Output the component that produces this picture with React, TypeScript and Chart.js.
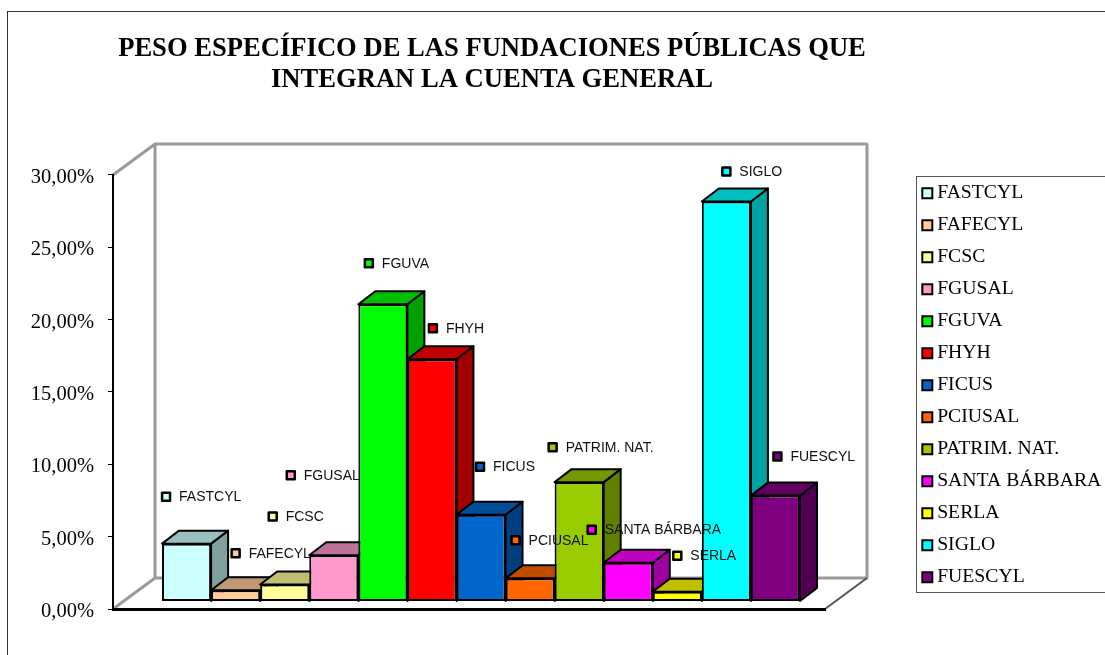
import React, { useEffect, useRef } from "react";
import { Chart, registerables } from "chart.js";

Chart.register(...registerables);

const titleLines = [
  "PESO ESPECÍFICO DE LAS FUNDACIONES PÚBLICAS QUE",
  "INTEGRAN LA CUENTA GENERAL",
];
const names = [
  "FASTCYL", "FAFECYL", "FCSC", "FGUSAL", "FGUVA", "FHYH", "FICUS",
  "PCIUSAL", "PATRIM. NAT.", "SANTA BÁRBARA", "SERLA", "SIGLO", "FUESCYL",
];
const values = [4.0, 0.78, 1.17, 3.2, 20.55, 16.75, 6.0, 1.6, 8.25, 2.68, 0.68, 27.65, 7.32];
const colors = [
  "#CCFFFF", "#FFCC99", "#FFFF99", "#FF99CC", "#00FF00", "#FF0000", "#0066CC",
  "#FF6600", "#99CC00", "#FF00FF", "#FFFF00", "#00FFFF", "#800080",
];
// Where Excel left each data label, relative to the top centre of its bar.
const labelDx = [-20.5, 0, -12, -43, -14, 1, -1, -14.5, -26.5, -36.5, 0, 0, 2];
const labelDy = [-47, -37, -68, -80, -41, -31, -48, -38, -35, -33, -36, -30, -39];

const SERIF = '"Liberation Serif"';
const SANS = '"Liberation Sans"';
const WALL = { dx: 42, dy: -31 };
const BAR_SHIFT = { dx: 12, dy: -7.5 };
const BAR_DEPTH = { dx: 17, dy: -13 };

function shade(hex: string, f: number) {
  const n = parseInt(hex.slice(1), 16);
  const c = [(n >> 16) & 255, (n >> 8) & 255, n & 255].map((v) => Math.round(v * f));
  return `rgb(${c[0]},${c[1]},${c[2]})`;
}

function poly(ctx: CanvasRenderingContext2D, pts: number[][], fill: string) {
  ctx.beginPath();
  pts.forEach((p, i) => (i ? ctx.lineTo(p[0], p[1]) : ctx.moveTo(p[0], p[1])));
  ctx.closePath();
  ctx.fillStyle = fill;
  ctx.fill();
  ctx.stroke();
}

const stagePlugin = {
  id: "stage",
  beforeLayout(chart: any) {
    const lg = chart.legend;
    if (lg && !lg.__patched) {
      const orig = lg.fit;
      lg.fit = function () {
        orig.call(this);
        this.width = 280;
      };
      lg.__patched = true;
    }
  },
  afterLayout(chart: any) {
    chart.titleBlock.left = 92;
    chart.titleBlock.right = 892;
    chart.legend.left = 915;
    chart.legend.top = 171;
    chart.legend.bottom = 612;
  },
  beforeDraw(chart: any) {
    const { ctx, chartArea: a } = chart;
    ctx.save();
    // outer frame, runs off the picture on the right and at the bottom
    ctx.strokeStyle = "#333333";
    ctx.lineWidth = 1;
    ctx.strokeRect(7.5, 11.5, 1300, 800);
    // legend frame
    ctx.strokeStyle = "#555555";
    ctx.strokeRect(916.5, 176.5, 400, 416);

    // walls and floor
    const x0 = a.left, x1 = a.right, y0 = a.top, y1 = a.bottom;
    const bx0 = x0 + WALL.dx, bx1 = x1 + WALL.dx, by0 = y0 + WALL.dy, by1 = y1 + WALL.dy;
    ctx.lineJoin = "round";
    ctx.strokeStyle = "#9a9a9a";
    ctx.lineWidth = 3;
    ctx.beginPath();
    ctx.moveTo(x0, y0);
    ctx.lineTo(bx0, by0);
    ctx.lineTo(bx1, by0);
    ctx.lineTo(bx1, by1);
    ctx.lineTo(bx0, by1);
    ctx.lineTo(x0, y1);
    ctx.moveTo(bx0, by0);
    ctx.lineTo(bx0, by1);
    ctx.stroke();
    ctx.strokeStyle = "#555555";
    ctx.lineWidth = 2;
    ctx.beginPath();
    ctx.moveTo(bx1, by1);
    ctx.lineTo(x1, y1);
    ctx.stroke();
    ctx.restore();
  },
  // the library's own draw loop runs last-to-first; bars must go left to right
  beforeDatasetDraw() {
    return false;
  },
  afterDatasetsDraw(chart: any) {
    const { ctx } = chart;
    ctx.save();
    ctx.translate(BAR_SHIFT.dx, BAR_SHIFT.dy);
    const n = chart.data.datasets.length;
    for (let i = 0; i < n; i++) {
      const el = chart.getDatasetMeta(i).data[0];
      const { x, y, base, width } = el.getProps(["x", "y", "base", "width"], true);
      const l = x - width / 2, r = x + width / 2;
      const d = BAR_DEPTH;
      ctx.lineWidth = 2;
      ctx.lineJoin = "round";
      ctx.strokeStyle = "#000000";
      poly(ctx, [[r, y], [r + d.dx, y + d.dy], [r + d.dx, base + d.dy], [r, base]], shade(colors[i], 0.63));
      poly(ctx, [[l, y], [l + d.dx, y + d.dy], [r + d.dx, y + d.dy], [r, y]], shade(colors[i], 0.75));
      el.draw(ctx);
    }
    // data labels
    ctx.font = `14px ${SANS}`;
    ctx.textBaseline = "middle";
    ctx.textAlign = "left";
    for (let i = 0; i < n; i++) {
      const el = chart.getDatasetMeta(i).data[0];
      const { x, y } = el.getProps(["x", "y"], true);
      const cx = x + labelDx[i], cy = y + labelDy[i];
      ctx.fillStyle = colors[i];
      ctx.strokeStyle = "#000000";
      ctx.lineWidth = 2.5;
      ctx.fillRect(cx - 4, cy - 4, 8, 8);
      ctx.strokeRect(cx - 4, cy - 4, 8, 8);
      ctx.fillStyle = "#111111";
      ctx.fillText(names[i], cx + 13, cy + 0.5);
    }
    ctx.restore();
  },
};

export default function App() {
  const ref = useRef<HTMLCanvasElement>(null);
  useEffect(() => {
    const chart = new Chart(ref.current as HTMLCanvasElement, {
      type: "bar",
      data: {
        labels: [""],
        datasets: names.map((name, i) => ({
          label: name,
          data: [values[i]],
          backgroundColor: colors[i],
          borderColor: "#000000",
          borderWidth: 2,
          borderSkipped: false,
        })),
      },
      options: {
        animation: false,
        responsive: false,
        devicePixelRatio: 1,
        layout: { padding: { left: 0, right: 0, top: 0, bottom: 46 } },
        datasets: { bar: { barPercentage: 1, categoryPercentage: 0.896 } },
        scales: {
          x: {
            type: "category",
            grid: { display: false },
            border: { display: true, color: "#000000", width: 3 },
            ticks: { display: false },
            afterFit: (s: any) => { s.height = 0; },
          },
          y: {
            min: 0,
            max: 30,
            ticks: {
              stepSize: 5,
              padding: 14,
              labelOffset: 2.5,
              color: "#000000",
              font: { family: SERIF, size: 20.5 },
              callback: (v: any) => Number(v).toFixed(2).replace(".", ",") + "%",
            },
            grid: { drawOnChartArea: false, drawTicks: true, tickLength: 5, color: "#000000", lineWidth: 1 },
            border: { display: true, color: "#000000", width: 2 },
            afterFit: (s: any) => { s.width = 113; },
          },
        },
        plugins: {
          tooltip: { enabled: false },
          title: {
            display: true,
            text: titleLines,
            color: "#000000",
            font: { family: SERIF, size: 26.6, weight: "bold", lineHeight: 1.165 },
            padding: { top: 34, bottom: 79 },
          },
          legend: {
            display: true,
            position: "right",
            align: "start",
            labels: {
              color: "#000000",
              font: { family: SERIF, size: 19.7 },
              boxWidth: 0.01,
              boxHeight: 10,
              padding: 12.3,
              usePointStyle: true,
              pointStyle: "rect",
            },
          },
        },
      },
      plugins: [stagePlugin],
    } as any);
    return () => chart.destroy();
  }, []);
  return (
    <canvas
      ref={ref}
      width={1105}
      height={655}
      style={{ position: "fixed", left: 0, top: 0, display: "block", background: "#ffffff", filter: "blur(0.35px)" }}
    />
  );
}
